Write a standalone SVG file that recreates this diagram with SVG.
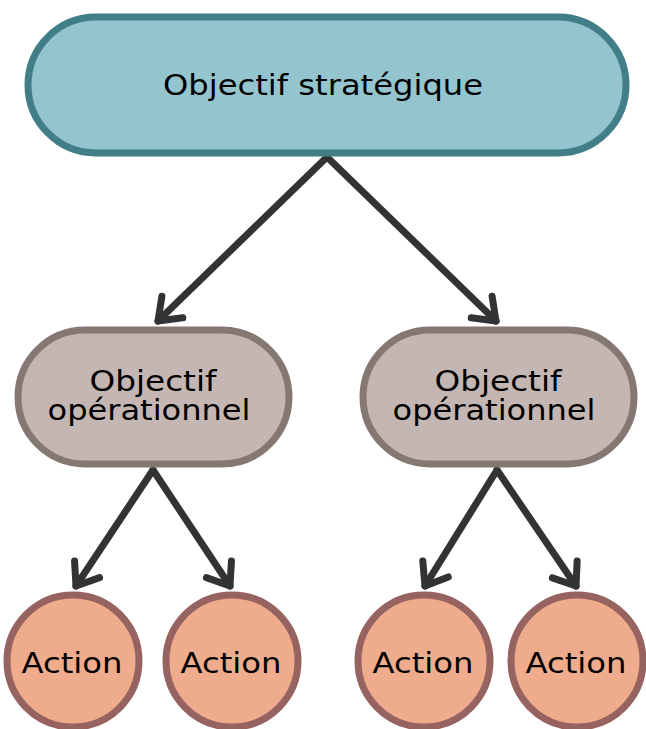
<svg xmlns="http://www.w3.org/2000/svg" width="646" height="729" viewBox="0 0 646 729">
<defs>
<style>
.t{font-family:"DejaVu Sans","Noto Sans",sans-serif;font-size:28px;fill:#000;text-anchor:middle}
.top{fill:#94c5cf;stroke:#417e87;stroke-width:7}
.mid{fill:#c4b6b2;stroke:#857873;stroke-width:7}
.act{fill:#eeac8d;stroke:#966361;stroke-width:7}
.con{stroke:#333;stroke-width:7;fill:none;stroke-linecap:round}
</style>
<marker id="ah" markerUnits="userSpaceOnUse" viewBox="-30 -20 40 40" markerWidth="40" markerHeight="40" refX="0" refY="0" orient="auto">
<path d="M-20,-15 L0,0 L-20,15" fill="none" stroke="#333" stroke-width="7" stroke-linecap="round" stroke-linejoin="round"/>
</marker>
</defs>
<g id="connectors">
<line class="con" x1="327" y1="157" x2="158" y2="321" marker-end="url(#ah)"/>
<line class="con" x1="327" y1="157" x2="496" y2="321" marker-end="url(#ah)"/>
<line class="con" x1="153" y1="470" x2="76" y2="586" marker-end="url(#ah)"/>
<line class="con" x1="153" y1="470" x2="230" y2="586" marker-end="url(#ah)"/>
<line class="con" x1="497" y1="470" x2="425" y2="586" marker-end="url(#ah)"/>
<line class="con" x1="497" y1="470" x2="576" y2="586" marker-end="url(#ah)"/>
</g>
<g id="n-strat">
<rect class="top" x="28" y="17" width="598" height="136" rx="68"/>
<text class="t" x="323" y="95" textLength="320" lengthAdjust="spacingAndGlyphs">Objectif stratégique</text>
</g>
<g id="n-op1">
<rect class="mid" x="18" y="330" width="271" height="134" rx="67"/>
<text class="t" x="153" y="391" textLength="127" lengthAdjust="spacingAndGlyphs">Objectif</text>
<text class="t" x="149" y="420" textLength="203" lengthAdjust="spacingAndGlyphs">opérationnel</text>
</g>
<g id="n-op2">
<rect class="mid" x="363" y="330" width="271" height="134" rx="67"/>
<text class="t" x="498" y="391" textLength="127" lengthAdjust="spacingAndGlyphs">Objectif</text>
<text class="t" x="494" y="420" textLength="203" lengthAdjust="spacingAndGlyphs">opérationnel</text>
</g>
<g id="n-a1">
<circle class="act" cx="73" cy="661" r="66"/>
<text class="t" x="72" y="673" textLength="101" lengthAdjust="spacingAndGlyphs">Action</text>
</g>
<g id="n-a2">
<circle class="act" cx="232" cy="661" r="66"/>
<text class="t" x="231" y="673" textLength="101" lengthAdjust="spacingAndGlyphs">Action</text>
</g>
<g id="n-a3">
<circle class="act" cx="424" cy="661" r="66"/>
<text class="t" x="423" y="673" textLength="101" lengthAdjust="spacingAndGlyphs">Action</text>
</g>
<g id="n-a4">
<circle class="act" cx="577" cy="661" r="66"/>
<text class="t" x="576" y="673" textLength="101" lengthAdjust="spacingAndGlyphs">Action</text>
</g>
</svg>
